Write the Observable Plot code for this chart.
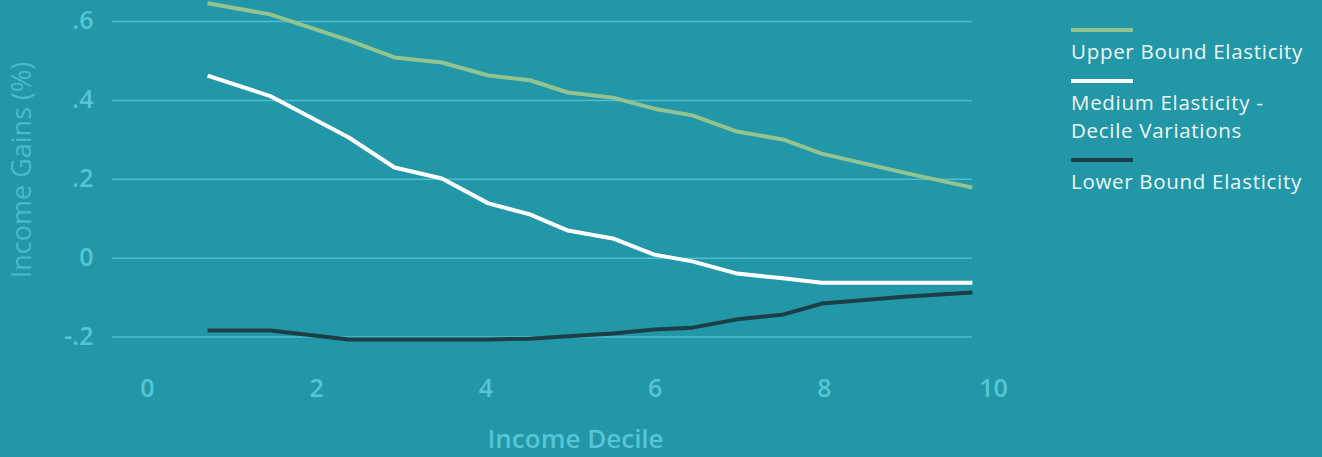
<!DOCTYPE html>
<html>
<head>
<meta charset="utf-8">
<script src="https://cdn.jsdelivr.net/npm/d3@7"></script>
<script src="https://cdn.jsdelivr.net/npm/@observablehq/plot@0.6"></script>
<style>
  html, body { margin: 0; padding: 0; background: #2197a7; }
  #wrap { position: relative; width: 1322px; height: 457px; background: #2197a7; overflow: hidden; }
  #legend { position: absolute; left: 1071px; top: 28px; font-family: "Open Sans", Lato, sans-serif; font-size: 20.5px; letter-spacing: 0.7px; color: #eef7f8; }
  .sw { width: 62px; height: 4px; }
  .lt { line-height: 28px; margin-top: 5px; margin-bottom: 14px; white-space: nowrap; }
</style>
</head>
<body>
<div id="wrap"><div id="legend"></div></div>
<script>
// Data
const deciles = [0.71, 1.45, 2.38, 2.92, 3.48, 4.03, 4.52, 4.97, 5.50, 5.99, 6.44, 6.97, 7.51, 7.97, 8.98, 9.75];
const upperBound = [0.646, 0.618, 0.552, 0.509, 0.496, 0.463, 0.451, 0.420, 0.407, 0.379, 0.362, 0.321, 0.301, 0.265, 0.215, 0.179];
const mediumDecile = [0.463, 0.411, 0.306, 0.230, 0.202, 0.139, 0.111, 0.070, 0.050, 0.009, -0.008, -0.039, -0.051, -0.062, -0.062, -0.062];
const lowerBound = [-0.183, -0.183, -0.206, -0.206, -0.206, -0.206, -0.204, -0.198, -0.191, -0.181, -0.176, -0.155, -0.143, -0.115, -0.097, -0.087];
const seriesNames = ["Upper Bound Elasticity", "Medium Elasticity - Decile Variations", "Lower Bound Elasticity"];
const legendLabels = [["Upper Bound Elasticity"], ["Medium Elasticity -", "Decile Variations"], ["Lower Bound Elasticity"]];
const xTicks = [0, 2, 4, 6, 8, 10];
const yTicks = [-0.2, 0, 0.2, 0.4, 0.6];

// Styles
const seriesColors = ["#93c48f", "#ffffff", "#1c3f47"];
const axisColor = "#56c5d6";
const gridColor = "#4dbfd0";
const font = "'Open Sans', Lato, sans-serif";

const seriesValues = [upperBound, mediumDecile, lowerBound];
const rows = seriesNames.flatMap((s, i) => deciles.map((d, j) => ({series: s, decile: d, value: seriesValues[i][j]})));

const xMin = -0.4137;
const fmtY = d => d === 0 ? "0" : d3.format(".1f")(d).replace("\u2212", "-").replace("0.", ".");

const chart = Plot.plot({
  width: 1322,
  height: 457,
  marginLeft: 112,
  marginRight: 329,
  marginTop: 0,
  marginBottom: 100,
  style: {background: "transparent", fontFamily: font, overflow: "visible"},
  x: {domain: [xMin, 10]},
  y: {domain: [-0.2517, 0.6532]},
  color: {domain: seriesNames, range: seriesColors},
  marks: [
    Plot.ruleY(yTicks, {x1: xMin, x2: d3.max(deciles), stroke: gridColor, strokeWidth: 1.5}),
    Plot.axisY(yTicks, {tickSize: 0, tickPadding: 19, tickFormat: fmtY, fontSize: 25, fontWeight: 600, fill: axisColor, label: null}),
    Plot.axisX(xTicks, {tickSize: 0, tickPadding: 22, fontSize: 25, fontWeight: 600, fill: axisColor, label: null}),
    Plot.text(["Income Decile"], {x: 5, frameAnchor: "bottom", dx: 5, dy: 90, fontSize: 26, fontWeight: 600, fill: axisColor}),
    Plot.text(["Income Gains (%)"], {frameAnchor: "left", textAnchor: "middle", dx: -90, dy: -9, rotate: -90, fontSize: 27, fill: axisColor, fillOpacity: 0.8}),
    Plot.line(rows, {x: "decile", y: "value", z: "series", stroke: "series", strokeWidth: 4, strokeLinecap: "butt", strokeLinejoin: "round"})
  ]
});
document.getElementById("wrap").prepend(chart);

const legend = document.getElementById("legend");
seriesNames.forEach((s, i) => {
  const sw = document.createElement("div");
  sw.className = "sw";
  sw.style.background = seriesColors[i];
  legend.appendChild(sw);
  const t = document.createElement("div");
  t.className = "lt";
  t.innerHTML = legendLabels[i].join("<br>");
  legend.appendChild(t);
});
</script>
</body>
</html>
